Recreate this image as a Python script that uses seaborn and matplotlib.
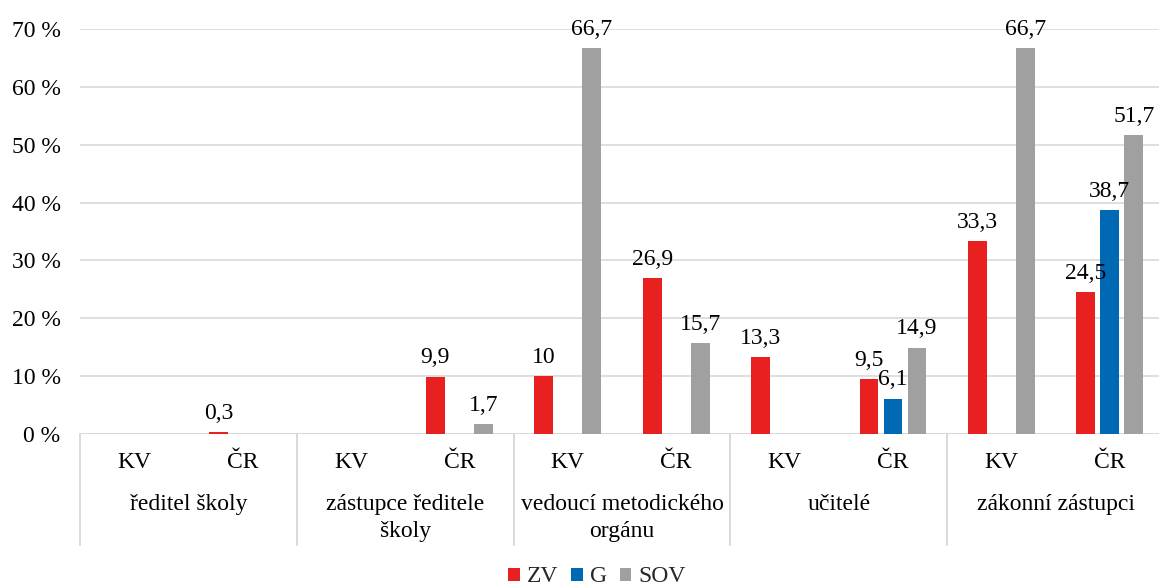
import numpy as np
import pandas as pd
import seaborn as sns
import matplotlib.pyplot as plt
from matplotlib.patches import Patch
from matplotlib.transforms import blended_transform_factory

# Categories: five respondent groups, each split into KV (region) and ČR (country)
groups = ["ředitel školy", "zástupce ředitele\nškoly", "vedoucí metodického\norgánu",
          "učitelé", "zákonní zástupci"]
regions = ["KV", "ČR"]
series = ["ZV", "G", "SOV"]

# Percentages per category (order: group x region); NaN = no bar
zv_values = [np.nan, 0.3, np.nan, 9.9, 10, 26.9, 13.3, 9.5, 33.3, 24.5]
g_values = [np.nan, np.nan, np.nan, np.nan, np.nan, np.nan, np.nan, 6.1, np.nan, 38.7]
sov_values = [np.nan, np.nan, np.nan, 1.7, 66.7, 15.7, np.nan, 14.9, 66.7, 51.7]

y_ticks = [0, 10, 20, 30, 40, 50, 60, 70]
colors = ["#E82020", "#0069B4", "#A0A0A0"]

cats = [f"{gi}|{r}" for gi in range(len(groups)) for r in regions]
rows = []
for name, vals in zip(series, [zv_values, g_values, sov_values]):
    for c, v in zip(cats, vals):
        if not np.isnan(v):
            rows.append({"cat": c, "series": name, "value": v})
df = pd.DataFrame(rows)

sns.set_style("white")
plt.rcParams["font.family"] = "serif"
plt.rcParams["font.serif"] = ["Liberation Serif", "Times New Roman", "DejaVu Serif"]
FS = 17
GRID = "#D9D9D9"

W, H = 1159, 586
fig = plt.figure(figsize=(W / 100, H / 100), dpi=100)
ax = fig.add_axes([80 / W, 152 / H, 1084 / W, 405 / H])

sns.barplot(data=df, x="cat", y="value", hue="series", order=cats, hue_order=series,
            palette=colors, saturation=1, width=0.664, gap=0.21, errorbar=None,
            linewidth=0, legend=False, ax=ax)

# Value labels with decimal comma
for cont in ax.containers:
    labels = [f"{v:g}".replace(".", ",") for v in cont.datavalues]
    ax.bar_label(cont, labels=labels, padding=6, fontsize=FS, color="black")

ax.set_xlim(-0.5, len(cats) - 0.5)
ax.set_ylim(0, 70)
ax.set_yticks(y_ticks)
ax.set_yticklabels([f"{t} %" for t in y_ticks], fontsize=FS, color="black")
ax.tick_params(axis="y", length=0, pad=14)
ax.set_xticks([])
ax.set_xlabel("")
ax.set_ylabel("")
for s in ax.spines.values():
    s.set_visible(False)
ax.grid(axis="y", color=GRID, linewidth=1.2)
ax.set_axisbelow(True)
ax.axhline(0, color=GRID, linewidth=1.4, zorder=0.5)

# Two-level category axis
tr = blended_transform_factory(ax.transData, ax.transAxes)
ax_h = 405
for i, c in enumerate(cats):
    ax.text(i, -28 / ax_h, c.split("|")[1], transform=tr, ha="center", va="center",
            fontsize=FS, color="black")
for gi, gname in enumerate(groups):
    ax.text(2 * gi + 0.5, -60 / ax_h, gname, transform=tr, ha="center", va="top",
            ma="center", linespacing=1.35, fontsize=FS, color="black")
for k in range(len(groups) + 1):
    ax.plot([2 * k - 0.5, 2 * k - 0.5], [0, -111 / ax_h], transform=tr, color=GRID,
            linewidth=1.4, clip_on=False)

handles = [Patch(facecolor=c, edgecolor="none", label=s) for s, c in zip(series, colors)]
fig.legend(handles=handles, loc="center", bbox_to_anchor=(597 / W, 1 - 577 / H), ncol=3,
           frameon=False, fontsize=FS, handlelength=0.48, handleheight=0.48,
           handletextpad=0.3, columnspacing=0.55, borderpad=0)

fig.savefig("out.png", dpi=100)
